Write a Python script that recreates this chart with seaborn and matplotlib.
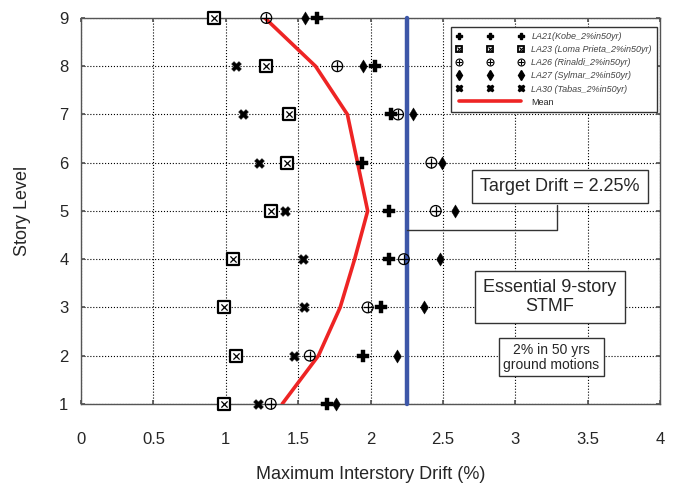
import matplotlib.pyplot as plt
import seaborn as sns
from matplotlib.lines import Line2D

# story levels and peak interstory drift (%) for each ground motion
stories = [1, 2, 3, 4, 5, 6, 7, 8, 9]
la21 = [1.70, 1.95, 2.07, 2.13, 2.13, 1.94, 2.14, 2.03, 1.63]
la23 = [0.99, 1.07, 0.99, 1.05, 1.31, 1.42, 1.44, 1.28, 0.92]
la26 = [1.31, 1.58, 1.98, 2.23, 2.45, 2.42, 2.19, 1.77, 1.28]
la27 = [1.76, 2.18, 2.37, 2.48, 2.58, 2.49, 2.29, 1.95, 1.55]
la30 = [1.22, 1.47, 1.54, 1.53, 1.41, 1.23, 1.12, 1.07, 0.92]
mean_drift = [1.39, 1.64, 1.79, 1.89, 1.98, 1.91, 1.84, 1.62, 1.27]
target_drift = 2.25

x_ticks = [0, 0.5, 1, 1.5, 2, 2.5, 3, 3.5, 4]
x_tick_labels = ['0', '0.5', '1', '1.5', '2', '2.5', '3', '3.5', '4']

sns.set_theme(style='white')
plt.rcParams['font.family'] = ['Liberation Sans', 'DejaVu Sans']

fig = plt.figure(figsize=(6.75, 4.86), dpi=100)
ax = fig.add_axes([0.12, 0.169, 0.858, 0.794])

# target drift line
ax.axvline(target_drift, color='#3d57a8', lw=3.2, zorder=3, clip_on=False)

# mean profile
sns.lineplot(x=mean_drift, y=stories, orient='y', sort=False, color='#ee2424',
             lw=2.6, ax=ax, zorder=4)

# individual records
pts = dict(ax=ax, clip_on=False, legend=False)
sns.scatterplot(x=la30, y=stories, marker='X', s=50, color='black',
                edgecolor='black', linewidth=0.3, zorder=5, **pts)
sns.scatterplot(x=la23, y=stories, marker='s', s=80, facecolor='white',
                edgecolor='black', linewidth=1.6, zorder=6, **pts)
sns.scatterplot(x=la23, y=stories, marker='x', s=20, color='black',
                linewidth=0.9, zorder=7, **pts)
sns.scatterplot(x=la26, y=stories, marker='o', s=60, facecolor='none',
                edgecolor='black', linewidth=0.9, zorder=5, **pts)
sns.scatterplot(x=la26, y=stories, marker='+', s=60, color='black',
                linewidth=0.9, zorder=5, **pts)
sns.scatterplot(x=la27, y=stories, marker='d', s=45, color='black',
                edgecolor='black', linewidth=0.3, zorder=5, **pts)
sns.scatterplot(x=la21, y=stories, marker='P', s=65, color='black',
                edgecolor='black', linewidth=0.3, zorder=5, **pts)

ax.set_xlim(0, 4)
ax.set_ylim(1, 9)
ax.set_xticks(x_ticks)
ax.set_xticklabels(x_tick_labels)
ax.set_yticks(stories)
ax.grid(True, color='black', ls=':', lw=0.8)
ax.tick_params(labelsize=12, direction='in', length=3, color='#555555',
               bottom=True, left=True, top=True, right=True)
ax.tick_params(axis='x', pad=20)
ax.tick_params(axis='y', pad=9)
for sp in ax.spines.values():
    sp.set_color('#555555')
    sp.set_linewidth(1.0)
ax.set_xlabel('Maximum Interstory Drift (%)', fontsize=13, labelpad=14)
ax.set_ylabel('Story Level', fontsize=13, labelpad=20)

# legend with three repeated markers per entry
h21 = Line2D([], [], ls='none', marker='P', ms=5, color='black')
h23 = (Line2D([], [], ls='none', marker='s', ms=5, mfc='white', mec='black', mew=1.3),
       Line2D([], [], ls='none', marker='x', ms=2.5, color='black', mew=0.8))
h26 = (Line2D([], [], ls='none', marker='o', ms=5, mfc='none', mec='black', mew=0.8),
       Line2D([], [], ls='none', marker='+', ms=5, color='black', mew=0.8))
h27 = Line2D([], [], ls='none', marker='d', ms=5, color='black')
h30 = Line2D([], [], ls='none', marker='X', ms=4.5, color='black')
hm = Line2D([], [], color='#ee2424', lw=2.6)
leg = ax.legend([h21, h23, h26, h27, h30, hm],
                ['LA21(Kobe_2%in50yr)', 'LA23 (Loma Prieta_2%in50yr)',
                 'LA26 (Rinaldi_2%in50yr)', 'LA27 (Sylmar_2%in50yr)',
                 'LA30 (Tabas_2%in50yr)', 'Mean'],
                loc='upper right', bbox_to_anchor=(0.995, 0.977), borderaxespad=0,
                numpoints=3, handlelength=7.5, fontsize=6.5, fancybox=False,
                framealpha=1, edgecolor='#333333', labelspacing=0.45,
                borderpad=0.6, handletextpad=0.8)
leg.get_frame().set_linewidth(1.0)
for t in leg.get_texts()[:5]:
    t.set_fontstyle('italic')
    t.set_color('#444444')

# annotation boxes
box = dict(boxstyle='square,pad=0.45', fc='white', ec='#333333', lw=1.0)
ax.text(3.31, 5.51, 'Target Drift = 2.25%', fontsize=13, ha='center', va='center',
        bbox=box, zorder=8)
ax.plot([target_drift, 3.29, 3.29], [4.61, 4.61, 5.12], color='#333333', lw=1.0, zorder=7)
ax.text(3.24, 3.22, 'Essential 9-story\nSTMF', fontsize=13, ha='center', va='center',
        bbox=box, zorder=8, linespacing=1.15)
ax.text(3.25, 1.97, '2% in 50 yrs\nground motions', fontsize=10, ha='center', va='center',
        bbox=dict(boxstyle='square,pad=0.3', fc='white', ec='#333333', lw=1.0),
        zorder=8, linespacing=1.1)

fig.savefig('out.png', dpi=100)
